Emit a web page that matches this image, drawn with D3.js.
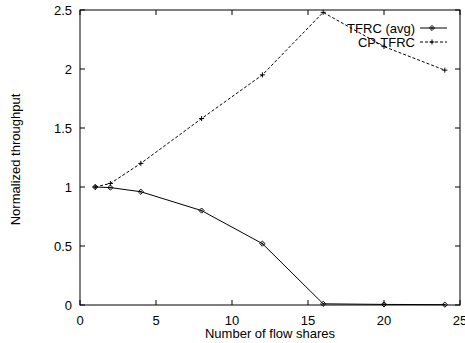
<!DOCTYPE html>
<html><head><meta charset="utf-8">
<script src="https://cdn.jsdelivr.net/npm/d3@7"></script>
<style>body{margin:0;background:#fff}svg{display:block}text{font-family:"Liberation Sans",Arial,sans-serif;font-size:13px;fill:#000}</style>
</head><body>
<svg id="c" width="465" height="343"></svg>
<script>
const flowShares = [1, 2, 4, 8, 12, 16, 20, 24];
const tfrcAvg = [1.0, 0.995, 0.96, 0.80, 0.52, 0.01, 0.005, 0.003];
const cpTfrc = [1.0, 1.03, 1.20, 1.58, 1.95, 2.48, 2.19, 1.99];
const xTicks = [0, 5, 10, 15, 20, 25];
const yTicks = [0, 0.5, 1, 1.5, 2, 2.5];
const seriesNames = ["TFRC (avg)", "CP-TFRC"];

const svg = d3.select("#c");
const L = 80, R = 460, T = 10, B = 305;
const x = d3.scaleLinear().domain([0, 25]).range([L, R]);
const y = d3.scaleLinear().domain([0, 2.5]).range([B, T]);

svg.append("rect").attr("x", L).attr("y", T).attr("width", R - L).attr("height", B - T)
  .attr("fill", "none").attr("stroke", "#000").attr("stroke-width", 1);

const tk = 5;
const g = svg.append("g").attr("stroke", "#000").attr("stroke-width", 1);
xTicks.forEach(v => {
  g.append("line").attr("x1", x(v)).attr("x2", x(v)).attr("y1", B).attr("y2", B - tk);
  g.append("line").attr("x1", x(v)).attr("x2", x(v)).attr("y1", T).attr("y2", T + tk);
});
yTicks.forEach(v => {
  g.append("line").attr("x1", L).attr("x2", L + tk).attr("y1", y(v)).attr("y2", y(v));
  g.append("line").attr("x1", R).attr("x2", R - tk).attr("y1", y(v)).attr("y2", y(v));
});
svg.selectAll(".xt").data(xTicks).enter().append("text")
  .attr("x", d => x(d)).attr("y", B + 20).attr("text-anchor", "middle").text(d => d);
svg.selectAll(".yt").data(yTicks).enter().append("text")
  .attr("x", L - 8).attr("y", d => y(d) + 5).attr("text-anchor", "end").text(d => d);

svg.append("text").attr("x", 270).attr("y", 338).attr("text-anchor", "middle").text("Number of flow shares");
svg.append("text").attr("transform", "translate(20," + ((T + B) / 2 + 2) + ") rotate(-90)")
  .attr("text-anchor", "middle").text("Normalized throughput");

const line = d3.line().x(d => x(d[0])).y(d => y(d[1]));
const d1 = flowShares.map((f, i) => [f, tfrcAvg[i]]);
const d2 = flowShares.map((f, i) => [f, cpTfrc[i]]);
svg.append("path").attr("d", line(d1)).attr("fill", "none").attr("stroke", "#000").attr("stroke-width", 1);
svg.append("path").attr("d", line(d2)).attr("fill", "none").attr("stroke", "#000").attr("stroke-width", 1).attr("stroke-dasharray", "3,2");

function diamond(px, py) {
  const s = 2.6;
  svg.append("path").attr("d", `M${px},${py - s}L${px + s},${py}L${px},${py + s}L${px - s},${py}Z`)
    .attr("fill", "none").attr("stroke", "#000").attr("stroke-width", 1);
  svg.append("circle").attr("cx", px).attr("cy", py).attr("r", 0.9).attr("fill", "#000");
}
function plus(px, py) {
  const s = 2.5;
  svg.append("path").attr("d", `M${px - s},${py}H${px + s}M${px},${py - s}V${py + s}`)
    .attr("stroke", "#000").attr("stroke-width", 1);
}
d1.forEach(d => diamond(x(d[0]), y(d[1])));
d2.forEach(d => plus(x(d[0]), y(d[1])));

// legend
const lx1 = 420, lx2 = 447;
svg.append("text").attr("x", 415).attr("y", 33).attr("text-anchor", "end").text(seriesNames[0]);
svg.append("line").attr("x1", lx1).attr("x2", lx2).attr("y1", 28).attr("y2", 28).attr("stroke", "#000");
diamond(432, 28);
svg.append("text").attr("x", 415).attr("y", 47).attr("text-anchor", "end").text(seriesNames[1]);
svg.append("line").attr("x1", lx1).attr("x2", lx2).attr("y1", 42).attr("y2", 42).attr("stroke", "#000").attr("stroke-dasharray", "3,2");
plus(432, 42);
</script>
</body></html>
